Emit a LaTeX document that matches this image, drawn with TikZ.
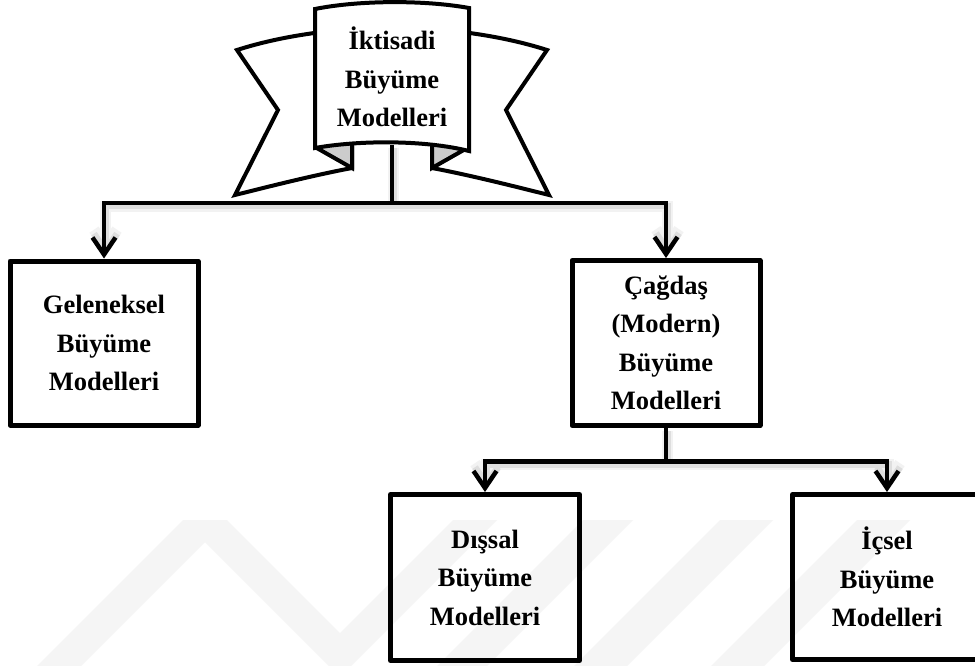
\documentclass[tikz,border=0pt]{standalone}
\usepackage{fontspec}
\setmainfont{Liberation Serif}
\usetikzlibrary{arrows.meta}

\begin{document}
\begin{tikzpicture}[x=1pt,y=-1pt,
  boxtxt/.style={font=\bfseries\fontsize{26.5}{38.5}\selectfont, align=center, inner sep=0pt},
  modelbox/.style={boxtxt, draw, line width=5pt, line join=round},
  link/.style={line width=4.5pt, -{Straight Barb[length=17pt,width=23pt]}},
  linkhaze/.style={link, draw=black!5, line width=11pt, shorten >=5pt,
    transform canvas={shift={(1.5pt,-3pt)}}},
  linkshade/.style={link, draw=black!13, line width=6.5pt, shorten >=5pt,
    transform canvas={shift={(1.5pt,-3pt)}}},
  ribbon/.style={line width=4pt, line join=miter},
  stripe/.style={fill=black!4}]

\useasboundingbox (0,0) rectangle (975,666);
\clip (0,0) rectangle (975,666);
\fill[white] (0,0) rectangle (975,666);

% faint diagonal stripes in the lower half
\fill[stripe] (183,520) -- (227,520) -- (81,666) -- (37,666) -- cycle;
\fill[stripe] (183,520) -- (227,520) -- (340,633) -- (453,520) -- (497,520) -- (340,677) -- cycle;
\fill[stripe] (583,520) -- (633,520) -- (487,666) -- (437,666) -- cycle;
\fill[stripe] (720,520) -- (773,520) -- (627,666) -- (574,666) -- cycle;
\fill[stripe] (857,520) -- (910,520) -- (764,666) -- (711,666) -- cycle;

% model boxes
\node[modelbox, minimum width=188pt, minimum height=164pt] (gel) at (104,343)
  {Geleneksel\\Büyüme\\Modelleri};
\node[modelbox, minimum width=188pt, minimum height=165pt] (cag) at (666,343)
  {Çağdaş\\(Modern)\\Büyüme\\Modelleri};
\node[modelbox, minimum width=189pt, minimum height=166pt] (dis) at (485,577.5)
  {Dışsal\\Büyüme\\Modelleri};
\node[modelbox, minimum width=189pt, minimum height=165pt] (ice) at (887,577)
  {İçsel\\Büyüme\\Modelleri};

% branching points
\coordinate (bstem) at (392,145);
\coordinate (j1) at (392,203);
\coordinate (j2) at (666,461.5);

\newcommand\linkpaths[1]{%
  \draw[#1] (bstem) -- (j1) -| (gel.north);
  \draw[#1] (j1) -| (cag.north);
  \draw[#1] (cag.south) -- (j2) -| (dis.north);
  \draw[#1] (j2) -| (ice.north);}

% soft shadows under the connectors
\linkpaths{linkhaze}
\linkpaths{linkshade}

% title ribbon: two notched wings with folds behind a curved panel
\foreach \s/\o in {1/0,-1/784}{
  \begin{scope}[shift={(\o,0)}, xscale=\s, ribbon]
    \draw[fill=white] (322,32) .. controls (290,36) and (262,42) .. (237,50)
      -- (278,110) -- (235,195) .. controls (275,185) and (315,175) .. (352,168)
      -- (352,120) -- cycle;
    \draw[fill=black!20] (315,147) -- (352,168) -- (352,140);
  \end{scope}}
\draw[ribbon, fill=white] (315,9) .. controls (360,0) and (425,0) .. (469,8)
  -- (469,151) .. controls (425,140) and (360,140) .. (315,148) -- cycle;
\node[boxtxt] (ban) at (392,77) {İktisadi\\Büyüme\\Modelleri};

% connectors
\linkpaths{link}

\end{tikzpicture}
\end{document}
